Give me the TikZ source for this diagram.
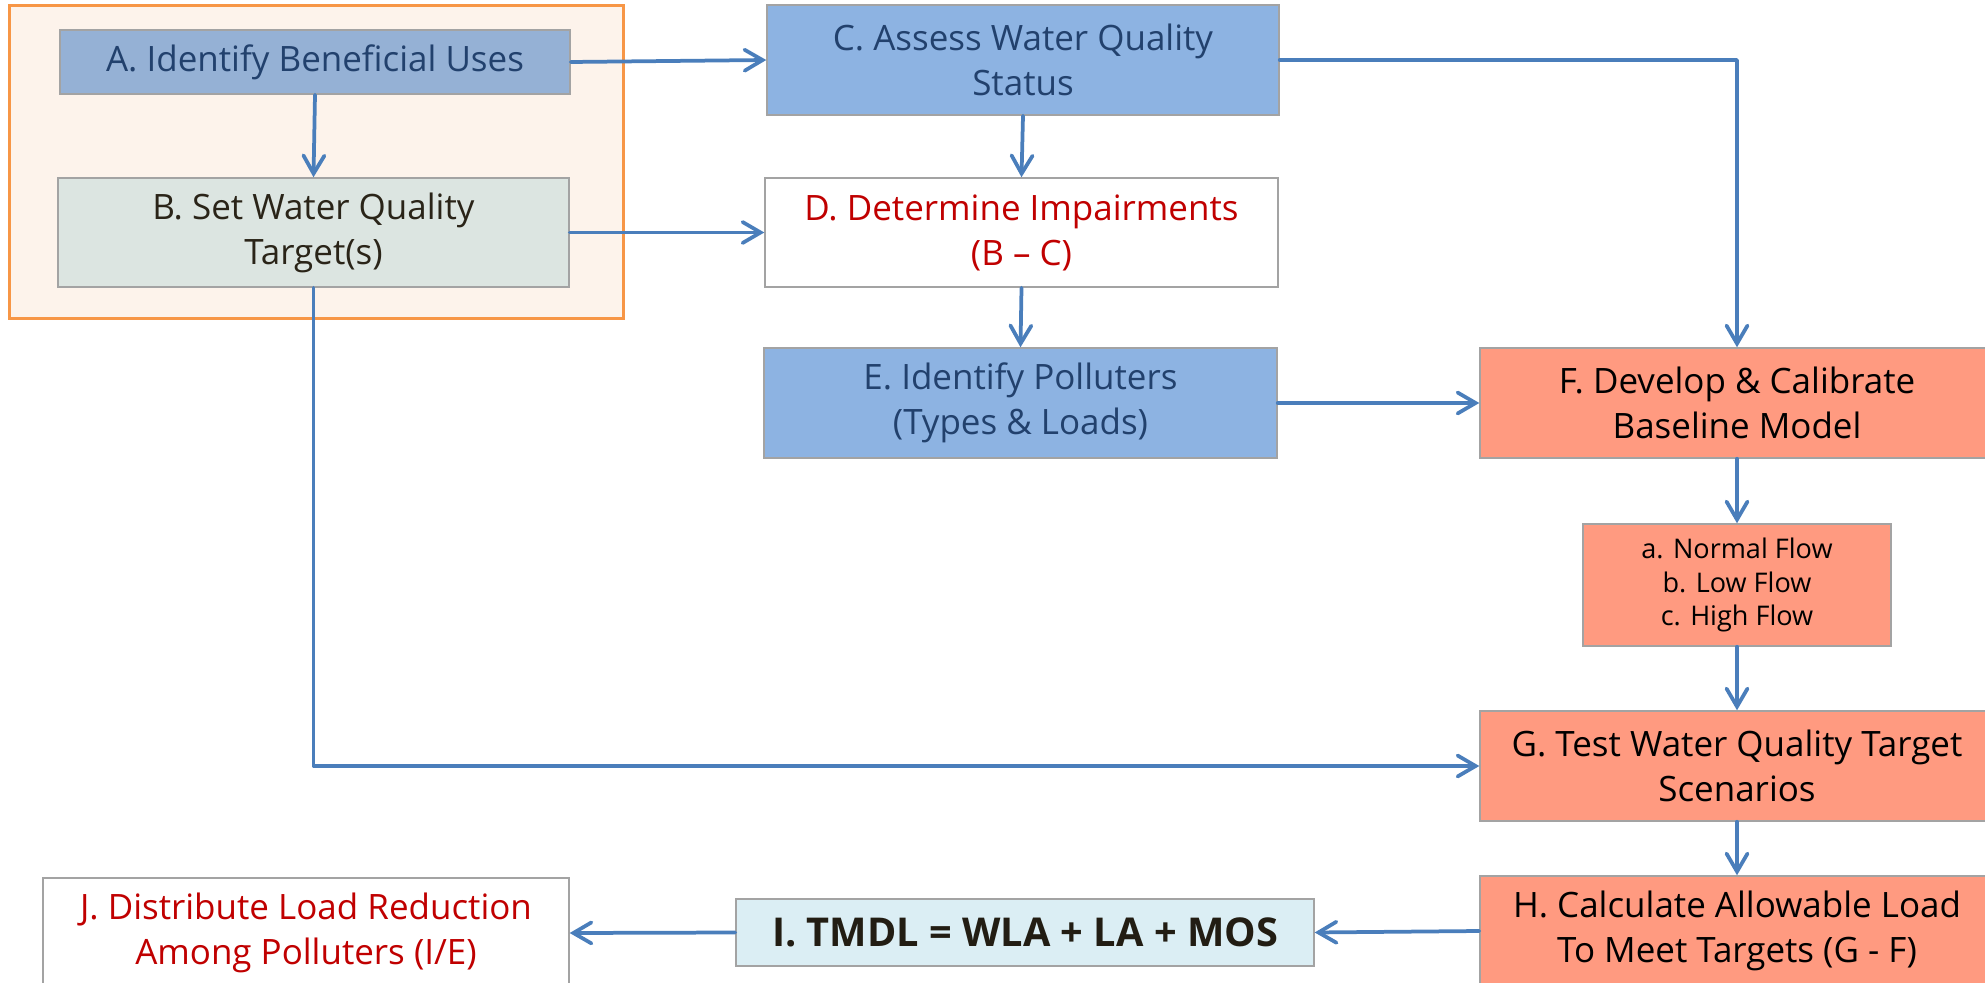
\documentclass[tikz,border=0pt]{standalone}
\usepackage{fontspec}
\setmainfont{Open Sans}
\usetikzlibrary{arrows.meta}
\definecolor{lineblue}{HTML}{4A7EBB}
\definecolor{boxgray}{HTML}{A3A3A3}
\definecolor{groupfill}{HTML}{FDF3EB}
\definecolor{groupline}{HTML}{F79646}
\definecolor{usesfill}{HTML}{95B1D5}
\definecolor{targetfill}{HTML}{DCE5E1}
\definecolor{statusfill}{HTML}{8DB3E2}
\definecolor{modelfill}{HTML}{FF9A80}
\definecolor{tmdlfill}{HTML}{DBEEF4}
\definecolor{darkblue}{HTML}{22416D}
\definecolor{darkbrown}{HTML}{2A2418}
\definecolor{impred}{HTML}{C00000}

\tikzset{
    every node/.style={font=\fontsize{19.9}{25.6}\selectfont, align=center, inner sep=0pt},
    stepbox/.style={draw=boxgray, line width=0.03cm, rectangle},
    arr/.style={draw=lineblue, line width=0.075cm, line cap=round, line join=round,
        -{Straight Barb[length=0.36cm, width=0.42cm, line cap=round]}}
}

\begin{document}
\begin{tikzpicture}[x=0.02cm, y=-0.02cm]
    \useasboundingbox (0,0) rectangle (1985,983);

    % draw group box
    \node[draw=groupline, fill=groupfill, line width=0.06cm, minimum width=12.3cm, minimum height=6.28cm] (grp) at (316.5,162) {};

    % draw boxes
    \node[stepbox, fill=usesfill, text=darkblue, minimum width=10.2cm, minimum height=1.28cm] (A) at (315,62) {A. Identify Beneficial Uses};
    \node[stepbox, fill=targetfill, text=darkbrown, minimum width=10.22cm, minimum height=2.18cm] (B) at (313.5,232.5) {B. Set Water Quality\\Target(s)};
    \node[stepbox, fill=statusfill, text=darkblue, minimum width=10.24cm, minimum height=2.2cm] (C) at (1023,60) {C. Assess Water Quality\\Status};
    \node[stepbox, fill=white, text=impred, minimum width=10.26cm, minimum height=2.18cm] (D) at (1021.5,232.5) {D. Determine Impairments\\(B -- C)};
    \node[stepbox, fill=statusfill, text=darkblue, minimum width=10.26cm, minimum height=2.2cm] (E) at (1020.5,403) {E. Identify Polluters\\(Types \& Loads)};
    \node[stepbox, fill=modelfill, minimum width=10.28cm, minimum height=2.2cm] (F) at (1737,403) {F. Develop \& Calibrate\\Baseline Model};
    \node[stepbox, fill=modelfill, minimum width=6.16cm, minimum height=2.44cm,
        font=\fontsize{15.4}{19.3}\selectfont] (flows) at (1737,585) {a. Normal Flow\\b. Low Flow\\c. High Flow};
    \node[stepbox, fill=modelfill, minimum width=10.28cm, minimum height=2.2cm] (G) at (1737,766) {G. Test Water Quality Target\\Scenarios};
    \node[stepbox, fill=modelfill, minimum width=10.28cm, minimum height=2.2cm] (H) at (1737,931) {H. Calculate Allowable Load\\To Meet Targets (G - F)};
    \node[stepbox, fill=tmdlfill, text=darkbrown!80!black, minimum width=11.56cm, minimum height=1.34cm,
        font=\fontsize{22.6}{26}\selectfont\bfseries] (I) at (1025,932.5) {I. TMDL = WLA + LA + MOS};
    \node[stepbox, fill=white, text=impred, minimum width=10.52cm, minimum height=2.2cm] (J) at (306,933) {J. Distribute Load Reduction\\Among Polluters (I/E)};

    % draw arrows
    \draw[arr] (A.east) -- (C.west);
    \draw[arr] (A.south) -- (B.north);
    \draw[arr] (B.east) -- (D.west);
    \draw[arr] (C.south) -- (D.north);
    \draw[arr] (D.south) -- (E.north);
    \draw[arr] (C.east) -| (F.north);
    \draw[arr] (E.east) -- (F.west);
    \draw[arr] (F.south) -- (flows.north);
    \draw[arr] (flows.south) -- (G.north);
    \draw[arr] (G.south) -- (H.north);
    \draw[arr] (B.south) |- (G.west);
    \draw[arr] (H.west) -- (I.east);
    \draw[arr] (I.west) -- (J.east);
\end{tikzpicture}
\end{document}
